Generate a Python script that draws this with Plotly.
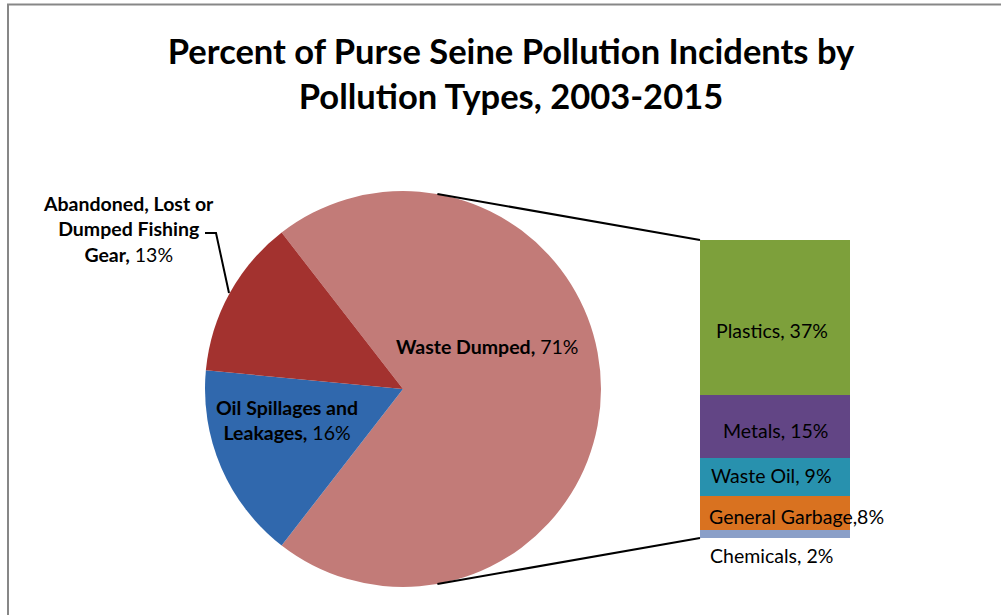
import math
import plotly.graph_objects as go

# ---- data -------------------------------------------------------------
pie_labels = ["Waste Dumped", "Oil Spillages and<br>Leakages", "Abandoned, Lost or<br>Dumped Fishing<br>Gear"]
pie_values = [71, 16, 13]
pie_colors = ["#c27b78", "#3068ad", "#a3322f"]

bar_labels = ["Chemicals", "General Garbage", "Waste Oil", "Metals", "Plastics"]
bar_values = [2, 8, 9, 15, 37]
bar_separators = [", ", ",", ", ", ", ", ", "]
bar_colors = ["#8a9fc8", "#d97220", "#2891ae", "#624585", "#7da03b"]

TITLE = "Percent of Purse Seine Pollution Incidents by<br>Pollution Types, 2003-2015"

# ---- layout helpers (pixel -> paper) ------------------------------------
W, H = 1001, 615


def px(x):
    return x / W


def py(y):
    return 1 - y / H


FONT = "Lato, 'Open Sans', sans-serif"
LABEL_SIZE = 19.5

# pie placement
PIE_CX, PIE_CY, PIE_R = 403, 389, 198
pie_domain_x = [px(PIE_CX - PIE_R), px(PIE_CX + PIE_R)]
pie_domain_y = [py(PIE_CY + PIE_R), py(PIE_CY - PIE_R)]

# bar placement
bar_domain_x = [px(700), px(850)]
bar_domain_y = [py(538), py(240)]

pie_total = sum(pie_values)
bar_total = sum(bar_values)
# first slice centred on the right-hand side (3 o'clock), drawn clockwise
rotation = 90 - pie_values[0] / pie_total * 360 / 2

fig = go.Figure()

fig.add_trace(go.Pie(
    labels=pie_labels,
    values=pie_values,
    sort=False,
    direction="clockwise",
    rotation=rotation,
    marker=dict(colors=pie_colors, line=dict(width=0)),
    textinfo="none",
    hoverinfo="label+percent",
    showlegend=False,
    domain=dict(x=pie_domain_x, y=pie_domain_y),
))

for lab, val, col in zip(bar_labels, bar_values, bar_colors):
    fig.add_trace(go.Bar(
        x=[0], y=[val], name=lab, width=1,
        marker=dict(color=col, line=dict(width=0)),
        showlegend=False, hoverinfo="name+y",
    ))

# ---- annotations --------------------------------------------------------
annotations = []

# pie labels
pie_label_pos = {
    "Waste Dumped": (487, 346),
    "Oil Spillages and<br>Leakages": (287, 420),
    "Abandoned, Lost or<br>Dumped Fishing<br>Gear": (128, 229),
}
for lab, val in zip(pie_labels, pie_values):
    x, y = pie_label_pos[lab]
    annotations.append(dict(
        x=px(x), y=py(y), xref="paper", yref="paper",
        text=f"<b>{lab},</b> {val}%", showarrow=False,
        font=dict(family=FONT, size=LABEL_SIZE, color="#000000"),
        align="center", xanchor="center", yanchor="middle",
    ))

# bar labels
bar_label_pos = [(771, 555), (796, 516), (771, 476), (775, 430), (772, 330)]
for lab, sep, val, (x, y) in zip(bar_labels, bar_separators, bar_values, bar_label_pos):
    annotations.append(dict(
        x=px(x), y=py(y), xref="paper", yref="paper",
        text=f"{lab}{sep}{val}%", showarrow=False,
        font=dict(family=FONT, size=LABEL_SIZE, color="#000000"),
        xanchor="center", yanchor="middle",
    ))

# ---- shapes -------------------------------------------------------------
shapes = []
CONNECT_ANGLE = 80  # degrees from the horizontal where the connectors leave the pie
ang = math.radians(CONNECT_ANGLE)
top_start = (px(PIE_CX + PIE_R * math.cos(ang)), py(PIE_CY - PIE_R * math.sin(ang)))
bot_start = (px(PIE_CX + PIE_R * math.cos(ang)), py(PIE_CY + PIE_R * math.sin(ang)))
shapes.append(dict(type="line", xref="paper", yref="paper",
                   x0=top_start[0], y0=top_start[1],
                   x1=bar_domain_x[0], y1=bar_domain_y[1],
                   line=dict(color="#000000", width=2)))
shapes.append(dict(type="line", xref="paper", yref="paper",
                   x0=bot_start[0], y0=bot_start[1],
                   x1=bar_domain_x[0], y1=bar_domain_y[0],
                   line=dict(color="#000000", width=2)))

# leader line for the small slice label
leader = [(205, 233), (216, 233), (229, 293)]
path = "M " + " L ".join(f"{px(x)},{py(y)}" for x, y in leader)
shapes.append(dict(type="path", xref="paper", yref="paper", path=path,
                   line=dict(color="#000000", width=2)))

# chart-area border
shapes.append(dict(type="rect", xref="paper", yref="paper",
                   x0=px(8), y0=-0.1, x1=1.1, y1=py(4.5),
                   line=dict(color="#878787", width=2)))

fig.update_layout(
    width=W, height=H,
    margin=dict(l=0, r=0, t=0, b=0),
    paper_bgcolor="#ffffff", plot_bgcolor="rgba(0,0,0,0)",
    barmode="stack", bargap=0,
    title=dict(text=TITLE, x=px(511), xanchor="center",
               y=py(64), yanchor="middle", yref="container",
               font=dict(family=FONT, size=34.5, color="#000000", weight="bold")),
    xaxis=dict(domain=bar_domain_x, range=[-0.5, 0.5], visible=False, fixedrange=True),
    yaxis=dict(domain=bar_domain_y, range=[0, bar_total], visible=False, fixedrange=True),
    annotations=annotations,
    shapes=shapes,
    font=dict(family=FONT),
)

fig.write_html("out.html")
